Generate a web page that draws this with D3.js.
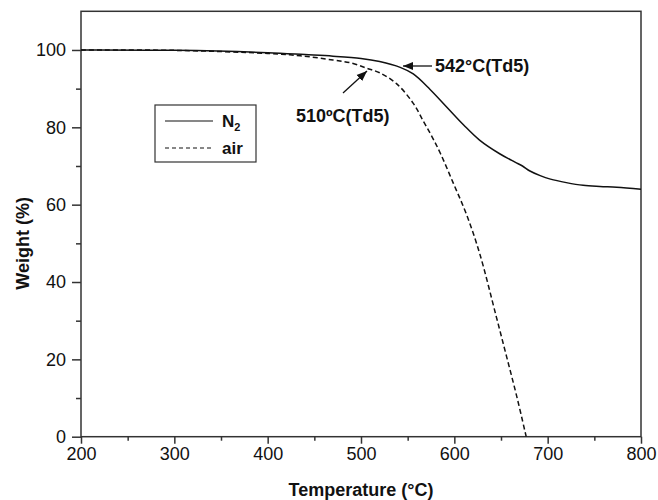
<!DOCTYPE html>
<html lang="en">
<head>
<meta charset="utf-8">
<title>TGA</title>
<script src="https://d3js.org/d3.v7.min.js"></script>
<style>
  body { margin: 0; background: #fff; }
  text { font-family: "Liberation Sans", Arial, sans-serif; fill: #111; }
</style>
</head>
<body>
<script>
// data
var n2Temp   = [200, 300, 400, 440, 470, 500, 520, 542, 556, 574, 592, 610, 627, 649, 665, 673, 681, 692, 703, 720, 738, 756, 774, 800];
var n2Weight = [100, 99.9, 99.3, 98.8, 98.4, 97.8, 97.0, 95.5, 93.8, 89.8, 85.2, 80.6, 76.7, 73.1, 71.0, 70.0, 68.7, 67.5, 66.6, 65.7, 65.0, 64.7, 64.5, 64.0];
var airTemp   = [200, 300, 400, 435, 470, 490, 506, 520, 538, 556, 567, 576, 585, 599, 613, 627, 645, 656, 667, 677];
var airWeight = [100, 99.9, 99.1, 98.5, 97.4, 96.6, 95.3, 94.1, 91.3, 86.2, 81.5, 77.6, 73.3, 65.5, 57.5, 47.5, 31.0, 20.7, 10.3, 0];
var xTicks = [200, 300, 400, 500, 600, 700, 800];
var yTicks = [0, 20, 40, 60, 80, 100];
var legendLabels = ["N", "air"];

var width = 658, height = 500;
var svg = d3.select("body").append("svg").attr("width", width).attr("height", height);

var x = d3.scaleLinear().domain([200, 800]).range([81, 641]);
var y = d3.scaleLinear().domain([0, 110]).range([436.7, 11.3]);

// frame
svg.append("rect")
  .attr("x", x(200)).attr("y", y(110))
  .attr("width", x(800) - x(200)).attr("height", y(0) - y(110))
  .attr("fill", "none").attr("stroke", "#333").attr("stroke-width", 1.5);

// axes
var xAxis = svg.append("g").attr("transform", "translate(0," + y(0) + ")")
  .call(d3.axisBottom(x).tickValues(xTicks).tickSize(7).tickPadding(4).tickFormat(d3.format("d")));
var xMinor = svg.append("g").attr("transform", "translate(0," + y(0) + ")")
  .call(d3.axisBottom(x).tickValues([250, 350, 450, 550, 650, 750]).tickSize(4).tickFormat(""));
var yAxis = svg.append("g").attr("transform", "translate(" + x(200) + ",0)")
  .call(d3.axisLeft(y).tickValues(yTicks).tickSize(9).tickPadding(6).tickFormat(d3.format("d")));
var yMinor = svg.append("g").attr("transform", "translate(" + x(200) + ",0)")
  .call(d3.axisLeft(y).tickValues([10, 30, 50, 70, 90]).tickSize(5).tickFormat(""));

[xAxis, xMinor, yAxis, yMinor].forEach(function (g) {
  g.select(".domain").remove();
  g.selectAll("line").attr("stroke", "#333").attr("stroke-width", 1.5);
  g.selectAll("text").style("font-size", "18px").attr("fill", "#111");
});

// axis titles
svg.append("text")
  .attr("x", (x(200) + x(800)) / 2).attr("y", 496)
  .attr("text-anchor", "middle")
  .style("font-size", "18px").style("font-weight", "bold")
  .text("Temperature (°C)");
svg.append("text")
  .attr("transform", "translate(29," + y(50) + ") rotate(-90)")
  .attr("text-anchor", "middle")
  .style("font-size", "18px").style("font-weight", "bold")
  .text("Weight (%)");

// curves
var line = d3.line().x(function (d) { return x(d[0]); }).y(function (d) { return y(d[1]); })
  .curve(d3.curveCatmullRom.alpha(0.5));

svg.append("path")
  .datum(d3.zip(n2Temp, n2Weight))
  .attr("d", line)
  .attr("fill", "none").attr("stroke", "#111").attr("stroke-width", 1.5);

svg.append("path")
  .datum(d3.zip(airTemp, airWeight))
  .attr("d", line)
  .attr("fill", "none").attr("stroke", "#111").attr("stroke-width", 1.5)
  .attr("stroke-dasharray", "5,3");

// arrow marker
svg.append("defs").append("marker")
  .attr("id", "arrow").attr("viewBox", "0 0 10 10")
  .attr("refX", 10).attr("refY", 5)
  .attr("markerWidth", 8).attr("markerHeight", 8)
  .attr("orient", "auto-start-reverse")
  .append("path").attr("d", "M0,1 L10,5 L0,9 Z").attr("fill", "#111");

// annotations
svg.append("line")
  .attr("x1", 432).attr("y1", 66).attr("x2", 403).attr("y2", 66)
  .attr("stroke", "#111").attr("stroke-width", 1.3).attr("marker-end", "url(#arrow)");
svg.append("text").attr("x", 435).attr("y", 72)
  .style("font-size", "18px").style("font-weight", "bold")
  .text("542°C(Td5)");

svg.append("line")
  .attr("x1", 343).attr("y1", 93).attr("x2", 367).attr("y2", 71)
  .attr("stroke", "#111").attr("stroke-width", 1.3).attr("marker-end", "url(#arrow)");
svg.append("text").attr("x", 296).attr("y", 122)
  .style("font-size", "18px").style("font-weight", "bold")
  .text("510ºC(Td5)");

// legend
var legend = svg.append("g");
legend.append("rect")
  .attr("x", 155).attr("y", 105).attr("width", 101).attr("height", 57)
  .attr("fill", "#fff").attr("stroke", "#333").attr("stroke-width", 1.2);
legend.append("line").attr("x1", 165).attr("x2", 213).attr("y1", 121).attr("y2", 121)
  .attr("stroke", "#111").attr("stroke-width", 1.2);
legend.append("line").attr("x1", 165).attr("x2", 213).attr("y1", 148).attr("y2", 148)
  .attr("stroke", "#111").attr("stroke-width", 1.2).attr("stroke-dasharray", "4,3");
var n2Text = legend.append("text").attr("x", 222).attr("y", 127)
  .style("font-size", "17px").style("font-weight", "bold");
n2Text.append("tspan").text(legendLabels[0]);
n2Text.append("tspan").attr("dy", 4).style("font-size", "11px").text("2");
legend.append("text").attr("x", 222).attr("y", 154)
  .style("font-size", "17px").style("font-weight", "bold")
  .text(legendLabels[1]);
</script>
</body>
</html>
